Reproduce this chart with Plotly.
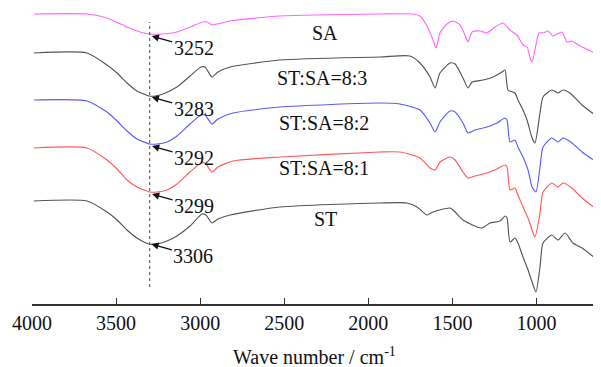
import plotly.graph_objects as go

# ---- data (wavenumber, cm-1 ; transmittance, arbitrary offset units) ----
wn_sa = [3988, 3673, 3554, 3435, 3358, 3298, 3221, 3138, 3060, 2983, 2959, 2930, 2900, 2822,
         2525, 1930, 1734, 1693, 1651, 1615, 1597, 1574, 1532, 1496, 1455, 1425, 1407, 1383,
         1336, 1294, 1247, 1199, 1157, 1116, 1080, 1056, 1038, 1026, 1009, 985, 961, 931, 902,
         878, 848, 818, 789, 741, 652]
t_sa = [290, 290, 286, 277, 272, 270, 270, 272, 277, 282, 282, 279, 280, 283,
        288, 290, 290, 288, 278, 264, 256, 271, 280, 283, 279, 269, 262, 272,
        273, 271, 277, 281, 274, 269, 259, 257, 246, 242, 254, 271, 271, 273, 268,
        270, 272, 262, 263, 258, 251]

wn_83 = [3988, 3673, 3554, 3494, 3435, 3376, 3304, 3268, 3221, 3138, 3060, 2995, 2971, 2930,
         2894, 2822, 2525, 1930, 1752, 1693, 1633, 1603, 1574, 1514, 1484, 1437, 1407, 1383,
         1318, 1258, 1205, 1187, 1169, 1128, 1110, 1080, 1056, 1026, 1009, 979, 961, 908, 872,
         842, 801, 729, 652]
t_83 = [251, 251, 239, 231, 221, 213, 208, 208, 210, 217, 228, 237, 237, 227,
        232, 237, 244, 247, 248, 241, 227, 216, 231, 241, 240, 226, 216, 222,
        224, 227, 232, 234, 214, 211, 204, 194, 184, 166, 161, 191, 207, 214, 211,
        214, 211, 199, 189]

wn_82 = [3988, 3673, 3554, 3494, 3435, 3376, 3298, 3257, 3197, 3138, 3060, 2995, 2971, 2930,
         2894, 2805, 2525, 1930, 1812, 1693, 1633, 1603, 1574, 1514, 1484, 1437, 1407, 1366,
         1294, 1235, 1187, 1175, 1157, 1128, 1110, 1080, 1050, 1026, 1003, 979, 961, 908, 872,
         842, 789, 729, 652]
t_82 = [204, 203, 192, 183, 173, 165, 160, 160, 162, 168, 180, 189, 189, 180,
        185, 191, 197, 201, 200, 194, 181, 172, 182, 193, 192, 181, 171, 174,
        177, 181, 186, 184, 162, 164, 157, 147, 134, 117, 112, 137, 157, 166, 162,
        166, 161, 152, 143]

wn_81 = [3988, 3673, 3554, 3494, 3435, 3376, 3298, 3257, 3197, 3138, 3060, 2995, 2971, 2930,
         2894, 2805, 2525, 1930, 1812, 1693, 1633, 1603, 1574, 1514, 1484, 1437, 1407, 1366,
         1294, 1235, 1187, 1175, 1157, 1128, 1110, 1080, 1050, 1026, 1009, 979, 961, 908, 872,
         842, 789, 729, 652]
t_81 = [156, 156, 144, 135, 124, 117, 112, 112, 114, 120, 132, 141, 141, 132,
        137, 143, 147, 152, 152, 146, 136, 134, 142, 147, 144, 132, 126, 128,
        131, 135, 139, 137, 114, 116, 109, 97, 86, 74, 67, 91, 112, 121, 117,
        121, 116, 106, 96]

wn_st = [3988, 3673, 3554, 3494, 3435, 3376, 3304, 3257, 3197, 3138, 3060, 2989, 2965, 2930,
         2894, 2822, 2525, 1930, 1770, 1710, 1651, 1615, 1514, 1484, 1437, 1354, 1324, 1276,
         1217, 1187, 1175, 1157, 1128, 1110, 1080, 1050, 1026, 1003, 979, 961, 908, 872,
         830, 783, 729, 652]
t_st = [103, 103, 92, 84, 74, 66, 60, 60, 63, 68, 78, 90, 89, 81,
        85, 89, 97, 101, 101, 97, 89, 92, 96, 92, 84, 77, 76, 81,
        83, 88, 86, 62, 66, 61, 47, 34, 22, 12, 37, 61, 69, 64,
        71, 61, 56, 46]

series_names = ["SA", "ST:SA=8:3", "ST:SA=8:2", "ST:SA=8:1", "ST"]
series_wn = [wn_sa, wn_83, wn_82, wn_81, wn_st]
series_t = [t_sa, t_83, t_82, t_81, t_st]
colors = ["#FF66FF", "#555555", "#5B5BFF", "#FF5B5B", "#555555"]

# label positions (wavenumber, transmittance)
label_wn = [2258, 2275, 2264, 2264, 2252]
label_t = [271, 226, 181, 136, 85]

# peak annotations
peak_text = ["3252", "3283", "3292", "3299", "3306"]
peak_wn = [3288, 3288, 3286, 3286, 3290]
peak_t = [268, 207, 158, 110, 60]

tick_vals = [4000, 3500, 3000, 2500, 2000, 1500, 1000]
tick_text = ["4000", "3500", "3000", "2500", "2000", "1500", "1000"]

guide_wn = 3300
guide_t = [17, 282]

FONT = "Liberation Serif, Times New Roman, serif"
FS = 20

fig = go.Figure()
for name, x, y, c in zip(series_names, series_wn, series_t, colors):
    fig.add_trace(go.Scatter(x=x, y=y, mode="lines", name=name,
                             line=dict(color=c, width=1.15, shape="spline", smoothing=0.6),
                             showlegend=False, hoverinfo="skip"))

fig.add_shape(type="line", xref="x", yref="y", x0=guide_wn, x1=guide_wn,
              y0=guide_t[0], y1=guide_t[1],
              line=dict(color="#444444", width=1, dash="dot"))

for name, x, y in zip(series_names, label_wn, label_t):
    fig.add_annotation(x=x, y=y, text=name, showarrow=False,
                       font=dict(family=FONT, size=FS, color="#111111"))

for txt, x, y in zip(peak_text, peak_wn, peak_t):
    fig.add_annotation(x=x, y=y, text=txt, showarrow=True, ax=42, ay=12,
                       arrowhead=2, arrowsize=1.1, arrowwidth=1.3, arrowcolor="#111111",
                       font=dict(family=FONT, size=FS, color="#111111"))

# x-axis title placed explicitly below the tick labels
fig.add_annotation(xref="paper", yref="paper", x=0.5, y=-0.176, yanchor="middle",
                   text="Wave number / cm<sup>-1</sup>", showarrow=False,
                   font=dict(family=FONT, size=FS, color="#111111"))

# the page body adds an 8px offset, so the figure is sized to compensate
fig.update_layout(
    width=593, height=359,
    margin=dict(l=24, r=4, t=0, b=63),
    paper_bgcolor="white", plot_bgcolor="white",
    font=dict(family=FONT, size=FS, color="#111111"),
    xaxis=dict(range=[4000, 640], tickvals=tick_vals, ticktext=tick_text,
               ticks="inside", ticklen=6, tickwidth=1.3, tickcolor="#333333",
               showline=True, linecolor="#333333", linewidth=1.5,
               showgrid=False, zeroline=False, automargin=False,
               tickfont=dict(family=FONT, size=FS, color="#111111")),
    yaxis=dict(range=[0, 296], visible=False, automargin=False),
)

fig.write_html("out.html")
